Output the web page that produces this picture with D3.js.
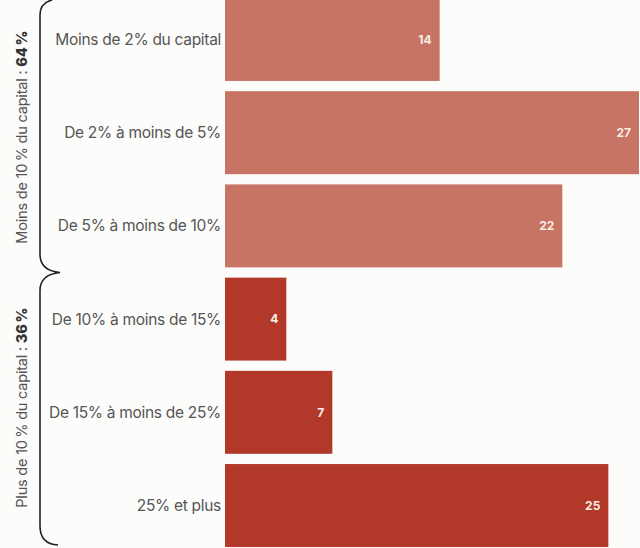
<!DOCTYPE html>
<html lang="fr">
<head>
<meta charset="utf-8">
<script src="https://cdn.jsdelivr.net/npm/d3@7"></script>
<style>
  html, body { margin: 0; padding: 0; background: #fcfcfa; }
  svg { display: block; }
  text { font-family: Inter, "Noto Sans", sans-serif; }
</style>
</head>
<body>
<svg id="chart" width="640" height="548"></svg>
<script>
// Répartition par part du capital détenue
const categories = [
  "Moins de 2% du capital",
  "De 2% à moins de 5%",
  "De 5% à moins de 10%",
  "De 10% à moins de 15%",
  "De 15% à moins de 25%",
  "25% et plus"
];
const values = [14, 27, 22, 4, 7, 25];
const groupOf = [0, 0, 0, 1, 1, 1];

const groupNames = ["Moins de 10\u202F% du capital : ", "Plus de 10\u202F% du capital : "];
const groupTotals = ["64\u202F%", "36\u202F%"];
const groupColors = ["#c77464", "#b2392a"];

const svg = d3.select("#chart");
const W = 640, H = 548;

const x = d3.scaleLinear().domain([0, 27]).range([225, 639]);
const y = d3.scaleBand().domain(categories).range([-2, 547]).paddingInner(0.11);

const rows = categories.map((c, i) => ({ cat: c, value: values[i], group: groupOf[i] }));

// Barres
svg.append("g").selectAll("rect")
  .data(rows)
  .join("rect")
  .attr("x", x(0))
  .attr("y", d => y(d.cat))
  .attr("width", d => x(d.value) - x(0))
  .attr("height", y.bandwidth())
  .attr("fill", d => groupColors[d.group]);

// Valeurs dans les barres
svg.append("g").selectAll("text")
  .data(rows)
  .join("text")
  .attr("x", d => x(d.value) - 8)
  .attr("y", d => y(d.cat) + y.bandwidth() / 2)
  .attr("dy", "0.36em")
  .attr("text-anchor", "end")
  .attr("fill", "#f8ece4")
  .attr("font-size", 12)
  .attr("font-weight", 700)
  .text(d => d.value);

// Libellés des catégories
svg.append("g").selectAll("text")
  .data(rows)
  .join("text")
  .attr("x", x(0) - 4)
  .attr("y", d => y(d.cat) + y.bandwidth() / 2)
  .attr("dy", "0.36em")
  .attr("text-anchor", "end")
  .attr("fill", "#555")
  .attr("font-size", 15.5)
  .attr("letter-spacing", "-0.3")
  .text(d => d.cat);

// Accolades de regroupement
const groups = [0, 1].map(g => {
  const cats = rows.filter(r => r.group === g).map(r => r.cat);
  return { g, top: y(cats[0]), bottom: y(cats[cats.length - 1]) + y.bandwidth() };
});
const mid = (groups[0].bottom + groups[1].top) / 2;
const xl = 40, xTip = 60;

const brace = d3.path();
// partie haute
brace.moveTo(52, 0);
brace.quadraticCurveTo(xl, 3, xl, 15);
brace.lineTo(xl, mid - 18);
brace.quadraticCurveTo(xl, mid - 2, xTip, mid);
// partie basse
brace.quadraticCurveTo(xl, mid + 2, xl, mid + 18);
brace.lineTo(xl, H - 22);
brace.quadraticCurveTo(xl, H - 4, 58, H - 3);

svg.append("path")
  .attr("d", brace.toString())
  .attr("fill", "none")
  .attr("stroke", "#222")
  .attr("stroke-width", 1.6);

// Titres de groupes verticaux
const centers = [
  (groups[0].top + mid) / 2 + 2,
  (mid + groups[1].bottom) / 2 - 2
];
groups.forEach((gr, i) => {
  const t = svg.append("text")
    .attr("transform", `translate(27,${centers[i]}) rotate(-90)`)
    .attr("text-anchor", "middle")
    .attr("fill", "#555")
    .attr("font-size", 14.5)
    .attr("letter-spacing", "-0.2");
  t.append("tspan").text(groupNames[i]);
  t.append("tspan").attr("font-weight", 800).attr("fill", "#333").text(groupTotals[i]);
});
</script>
</body>
</html>
